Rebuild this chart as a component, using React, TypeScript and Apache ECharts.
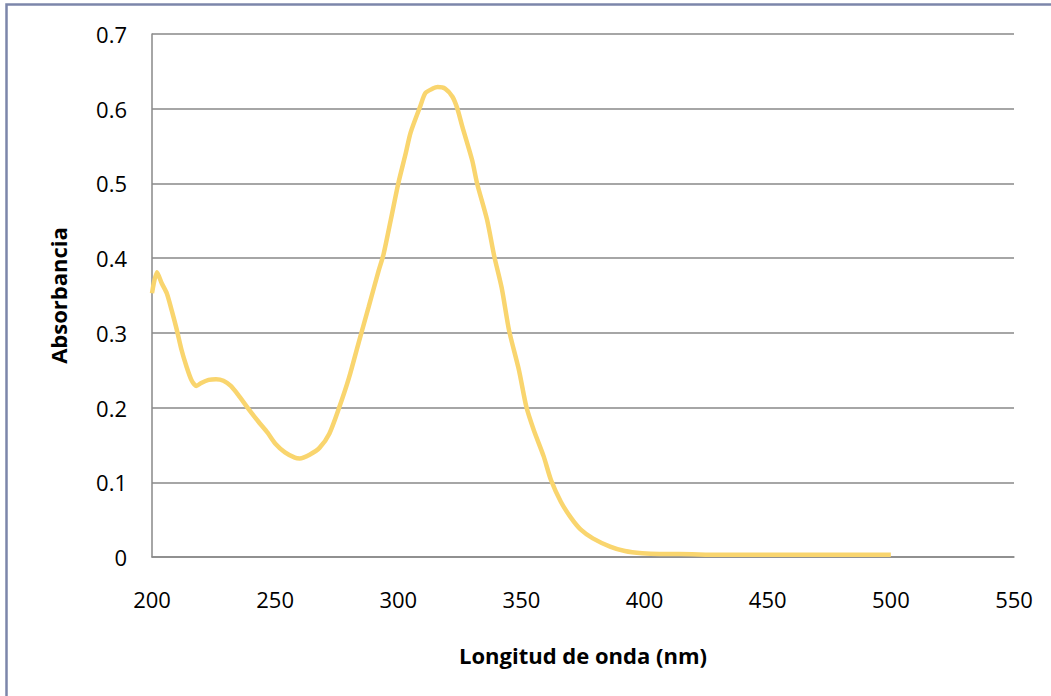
import React, { useEffect, useRef } from "react";
import * as echarts from "echarts";

const wavelengths = [
  200, 202, 204, 206, 208, 210, 212, 214, 216, 218, 220, 223, 226, 229, 232, 235, 239, 243, 247, 250,
  254, 258, 260, 264, 268, 272, 276, 280, 284, 288, 292, 294, 297, 300, 303, 305, 309, 311, 314, 316,
  319, 322, 324, 326, 330, 332, 336, 339, 342, 345, 349, 352, 355, 359, 362, 366, 370, 374, 379, 386,
  392, 399, 406, 414, 430, 450, 470, 490, 500,
];
const absorbance = [
  0.353, 0.381, 0.366, 0.353, 0.33, 0.305, 0.277, 0.255, 0.237, 0.229, 0.233, 0.237, 0.238, 0.236, 0.229, 0.217, 0.199, 0.182, 0.166, 0.152,
  0.14, 0.133, 0.132, 0.137, 0.146, 0.165, 0.2, 0.24, 0.288, 0.335, 0.383, 0.405, 0.452, 0.5, 0.54, 0.568, 0.604, 0.621, 0.627, 0.629,
  0.627, 0.616, 0.6, 0.576, 0.531, 0.5, 0.452, 0.402, 0.36, 0.303, 0.25, 0.201, 0.17, 0.135, 0.103, 0.074, 0.053, 0.037, 0.025, 0.014,
  0.008, 0.005, 0.004, 0.004, 0.003, 0.003, 0.003, 0.003, 0.003,
];

const xTitle = "Longitud de onda (nm)";
const yTitle = "Absorbancia";

export default function App() {
  const ref = useRef<HTMLDivElement>(null);
  useEffect(() => {
    if (!ref.current) return;
    const chart = echarts.init(ref.current, null, { renderer: "svg" });
    const font = "'Open Sans', 'Liberation Sans', sans-serif";
    chart.setOption({
      animation: false,
      backgroundColor: "#ffffff",
      graphic: [
        {
          type: "rect",
          shape: { x: 6.5, y: 4.5, width: 1200, height: 900 },
          style: { fill: "none", stroke: "#7C86AA", lineWidth: 2.5 },
          silent: true,
        },
      ],
      grid: { left: 152, top: 34, right: 37, bottom: 139, containLabel: false },
      xAxis: {
        type: "value",
        min: 200,
        max: 550,
        interval: 50,
        name: xTitle,
        nameLocation: "middle",
        nameGap: 87,
        nameTextStyle: { fontFamily: font, fontSize: 22, fontWeight: "bold", color: "#000" },
        axisLine: { show: true, lineStyle: { color: "#898989", width: 1.5 } },
        axisTick: { show: false },
        axisLabel: { fontFamily: font, fontSize: 22, color: "#000", margin: 31 },
        splitLine: { show: false },
      },
      yAxis: {
        type: "value",
        min: 0,
        max: 0.7,
        interval: 0.1,
        name: yTitle,
        nameLocation: "middle",
        nameGap: 83,
        nameRotate: 90,
        nameTextStyle: { fontFamily: font, fontSize: 22, fontWeight: "bold", color: "#000" },
        axisLine: { show: true, lineStyle: { color: "#898989", width: 1.5 } },
        axisTick: { show: false },
        axisLabel: { fontFamily: font, fontSize: 22, color: "#000", margin: 25 },
        splitLine: { show: true, lineStyle: { color: "#898989", width: 1.5 } },
      },
      series: [
        {
          type: "line",
          data: wavelengths.map((w, i) => [w, absorbance[i]]),
          showSymbol: false,
          smooth: 0.25,
          lineStyle: { color: "#F9D56E", width: 4.5 },
        },
      ],
    });
    return () => chart.dispose();
  }, []);
  return (
    <div
      ref={ref}
      style={{ position: "fixed", left: 0, top: 0, width: 1051, height: 696 }}
    />
  );
}
